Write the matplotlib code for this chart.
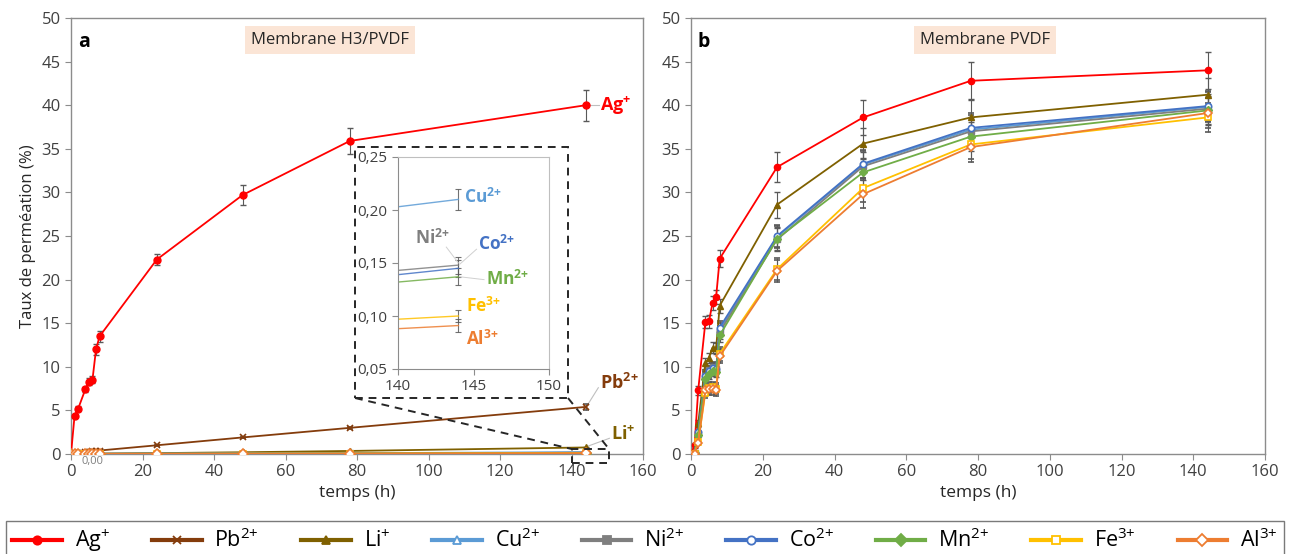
import numpy as np
import matplotlib
matplotlib.use("Agg")
import matplotlib.pyplot as plt
from matplotlib.patches import Rectangle
from matplotlib.lines import Line2D

plt.rcParams['font.family'] = ['Open Sans', 'DejaVu Sans']
plt.rcParams['mathtext.fontset'] = 'custom'
plt.rcParams['mathtext.rm'] = 'Open Sans'
plt.rcParams['mathtext.it'] = 'Open Sans:italic'
plt.rcParams['mathtext.bf'] = 'Open Sans:bold'

# données
temps = [0, 1, 2, 4, 5, 6, 7, 8, 24, 48, 78, 144]
ions = ['Ag', 'Pb', 'Li', 'Cu', 'Ni', 'Co', 'Mn', 'Fe', 'Al']
charges = ['+', '2', '+', '2', '2', '2', '2', '3', '3']
couleurs = ['#FF0000', '#843C0C', '#7F6000', '#5B9BD5', '#7F7F7F', '#4472C4', '#70AD47', '#FFC000', '#ED7D31']
marqueurs = ['o', 'x', '^', '^', 's', 'o', 'D', 's', 'D']
creux = [False, False, False, True, False, True, False, True, True]

# membrane H3/PVDF (a)
ag_a = [0, 4.4, 5.2, 7.4, 8.3, 8.5, 12.0, 13.5, 22.3, 29.7, 35.9, 40.0]
pb_a = [0, 0.05, 0.1, 0.2, 0.25, 0.3, 0.35, 0.4, 1.0, 1.9, 3.0, 5.4]
li_a = [0, 0.01, 0.02, 0.03, 0.04, 0.05, 0.05, 0.06, 0.1, 0.2, 0.35, 0.75]
cu_a = [0, 0, 0.005, 0.01, 0.01, 0.015, 0.015, 0.02, 0.04, 0.07, 0.095, 0.21]
ni_a = [0, 0, 0.005, 0.01, 0.01, 0.01, 0.015, 0.015, 0.03, 0.05, 0.066, 0.148]
co_a = [0, 0, 0.004, 0.008, 0.01, 0.01, 0.012, 0.013, 0.025, 0.04, 0.046, 0.145]
mn_a = [0, 0, 0.004, 0.008, 0.01, 0.01, 0.012, 0.014, 0.028, 0.045, 0.055, 0.137]
fe_a = [0, 0, 0.003, 0.006, 0.008, 0.009, 0.01, 0.011, 0.022, 0.04, 0.05, 0.100]
al_a = [0, 0, 0.003, 0.005, 0.007, 0.008, 0.009, 0.01, 0.02, 0.035, 0.042, 0.091]
ag_a_err = [0, 0.2, 0.3, 0.3, 0.4, 0.4, 0.6, 0.6, 0.6, 1.1, 1.5, 1.8]
pb_a_err = [0, 0.02, 0.02, 0.03, 0.03, 0.03, 0.04, 0.04, 0.08, 0.1, 0.15, 0.3]
li_a_err = [0, 0, 0, 0, 0, 0, 0, 0, 0.02, 0.03, 0.05, 0.08]
petit_err = [0, 0, 0, 0, 0, 0, 0, 0, 0.003, 0.005, 0.006, 0.008]
cu_a_err = [0, 0, 0, 0, 0, 0, 0, 0, 0.004, 0.006, 0.008, 0.010]
fe_a_err = [0, 0, 0, 0, 0, 0, 0, 0, 0.002, 0.003, 0.004, 0.006]

# membrane PVDF (b)
ag_b = [0, 1.0, 7.3, 15.1, 15.2, 17.3, 18.0, 22.4, 32.9, 38.6, 42.8, 44.0]
li_b = [0, 0.2, 3.5, 10.4, 11.0, 12.2, 12.1, 17.0, 28.6, 35.6, 38.6, 41.2]
cu_b = [0, 0.1, 2.4, 8.8, 9.3, 9.7, 9.6, 14.2, 24.9, 33.2, 37.2, 39.8]
ni_b = [0, 0.1, 2.3, 8.9, 9.6, 10.0, 9.8, 14.0, 24.6, 33.0, 37.0, 39.6]
co_b = [0, 0.1, 2.5, 9.0, 9.5, 9.9, 9.8, 14.5, 25.0, 33.3, 37.4, 39.9]
mn_b = [0, 0.1, 2.2, 8.6, 9.2, 9.5, 9.4, 13.6, 24.7, 32.3, 36.4, 39.4]
fe_b = [0, 0.05, 1.4, 7.0, 7.6, 7.7, 7.5, 11.5, 21.2, 30.5, 35.5, 38.6]
al_b = [0, 0.05, 1.3, 7.3, 7.4, 7.4, 7.3, 11.2, 21.0, 29.8, 35.2, 39.1]
ag_b_err = [0, 0.3, 0.5, 0.7, 0.7, 0.8, 0.8, 1.0, 1.7, 2.0, 2.1, 2.1]
li_b_err = [0, 0.2, 0.4, 0.6, 0.6, 0.6, 0.6, 0.8, 1.5, 1.8, 2.0, 1.9]
autres_b_err = [0, 0.1, 0.3, 0.6, 0.6, 0.6, 0.6, 0.8, 1.3, 1.6, 1.7, 1.7]

serie_a = [ag_a, pb_a, li_a, cu_a, ni_a, co_a, mn_a, fe_a, al_a]
err_a = [ag_a_err, pb_a_err, li_a_err, cu_a_err, petit_err, petit_err, petit_err, fe_a_err, fe_a_err]
serie_b = [ag_b, None, li_b, cu_b, ni_b, co_b, mn_b, fe_b, al_b]
err_b = [ag_b_err, None, li_b_err] + [autres_b_err] * 6

ERR_COL = '#595959'
SPINE = '#8C8C8C'


def nom_ion(i, gras=False):
    # charge en exposant, le "+" isolé dans un groupe pour éviter l'espacement d'opérateur
    ch = charges[i]
    if ch == '+':
        sup = '{+}'
    else:
        sup = ch + '{+}'
    if gras:
        return r'$\mathbf{%s}^{\mathbf{%s}}$' % (ions[i], sup)
    return '%s$^{%s}$' % (ions[i], sup)


fig = plt.figure(figsize=(12.9, 5.54), dpi=100)
ax_a = fig.add_axes([71 / 1290, 1 - 454 / 554, 572 / 1290, 436 / 554])
ax_b = fig.add_axes([691 / 1290, 1 - 454 / 554, 574 / 1290, 436 / 554])


def tracer(ax, series, errs, ms):
    for i, (v, e) in enumerate(zip(series, errs)):
        if v is None:
            continue
        ax.errorbar(temps, v, yerr=e, color=couleurs[i], marker=marqueurs[i], ms=ms,
                    mfc='white' if creux[i] else couleurs[i], mec=couleurs[i],
                    mew=1.2 if marqueurs[i] == 'x' or creux[i] else 1,
                    lw=1.3, ecolor=ERR_COL, elinewidth=0.8, capsize=2, capthick=0.8,
                    zorder=3)


def habiller(ax):
    ax.set_xlim(0, 160)
    ax.set_ylim(0, 50)
    ax.set_xticks(range(0, 161, 20))
    ax.set_yticks(range(0, 51, 5))
    for s in ax.spines.values():
        s.set_color(SPINE)
        s.set_linewidth(1)
    ax.tick_params(colors=SPINE, labelcolor='#404040', labelsize=12, length=4)
    ax.set_xlabel('temps (h)', fontsize=12.5, color='#262626', labelpad=3)


tracer(ax_a, serie_a, err_a, 5)
tracer(ax_b, serie_b, err_b, 4.5)
habiller(ax_a)
habiller(ax_b)
ax_a.set_ylabel('Taux de perméation (%)', fontsize=12, color='#262626')

for ax, lettre, titre, xc in [(ax_a, 'a', 'Membrane H3/PVDF', 330), (ax_b, 'b', 'Membrane PVDF', 985)]:
    ax.text(0.012, 0.945, lettre, transform=ax.transAxes, fontsize=14, fontweight='bold',
            va='center', ha='left')
    fig.text(xc / 1290, 1 - 40 / 554, titre, fontsize=12, ha='center', va='center', color='#262626',
             bbox=dict(boxstyle='square,pad=0.35', fc='#FBE5D6', ec='none'))

# étiquettes panneau a
ax_a.plot([144.8, 147.6], [40, 40], color='#BFBFBF', lw=0.8, clip_on=False)
ax_a.text(148, 40, nom_ion(0, True), color=couleurs[0], fontsize=13, va='center', clip_on=False)
ax_a.plot([144.6, 147.5], [5.7, 7.6], color='#BFBFBF', lw=0.8, clip_on=False)
ax_a.text(148, 8.1, nom_ion(1, True), color=couleurs[1], fontsize=13, va='center', clip_on=False)
ax_a.plot([144.6, 150.6], [0.9, 1.8], color='#BFBFBF', lw=0.8, clip_on=False)
ax_a.text(151, 2.2, nom_ion(2, True), color=couleurs[2], fontsize=13, va='center', clip_on=False)
ax_a.text(5.9, -0.9, '0,00', color='#7F7F7F', fontsize=8, ha='center', va='center', clip_on=False, zorder=5)

# encart (zoom 140-150 h)
ax_in = fig.add_axes([398 / 1290, 1 - 369 / 554, 151 / 1290, 212 / 554])
for i in range(3, 9):
    ax_in.errorbar(temps, serie_a[i], yerr=err_a[i], color=couleurs[i], lw=1,
                   ecolor=ERR_COL, elinewidth=0.8, capsize=2, capthick=0.8, alpha=0.85)
ax_in.set_xlim(140, 150)
ax_in.set_ylim(0.05, 0.25)
ax_in.set_xticks([140, 145, 150])
ax_in.set_yticks([0.05, 0.10, 0.15, 0.20, 0.25])
ax_in.set_yticklabels(['0,05', '0,10', '0,15', '0,20', '0,25'])
for nom, s in ax_in.spines.items():
    s.set_color(SPINE if nom in ('left', 'bottom') else '#BFBFBF')
ax_in.tick_params(colors=SPINE, labelcolor='#404040', labelsize=11, length=4)

lbl = dict(fontsize=12.5, va='center')
ax_in.text(144.35, 0.2116, nom_ion(3, True), color=couleurs[3], **lbl)
ax_in.text(141.1, 0.173, nom_ion(4, True), color=couleurs[4], **lbl)
ax_in.text(145.3, 0.1676, nom_ion(5, True), color=couleurs[5], **lbl)
ax_in.text(145.85, 0.1343, nom_ion(6, True), color=couleurs[6], **lbl)
ax_in.text(144.5, 0.1094, nom_ion(7, True), color=couleurs[7], **lbl)
ax_in.text(144.5, 0.078, nom_ion(8, True), color=couleurs[8], **lbl)
gris = dict(color='#D0D0D0', lw=0.7)
ax_in.plot([143.2, 144.0], [0.165, 0.150], **gris)
ax_in.plot([144.1, 145.2], [0.149, 0.163], **gris)
ax_in.plot([144.1, 145.7], [0.137, 0.1343], **gris)

# cadre pointillé et liens
fig.patches.append(Rectangle((355 / 1290, 1 - 398 / 554), 213 / 1290, 251 / 554,
                             transform=fig.transFigure, fill=False, ls=(0, (4, 3)),
                             ec='#262626', lw=1.4, zorder=1))
ax_a.add_patch(Rectangle((140.1, -1.03), 10.4, 1.6, fill=False, ls=(0, (4, 3)),
                         ec='#262626', lw=1.4, clip_on=False, zorder=4))
for (fx, fy), (dx, dy) in [((355, 398), (140.1, 0.57)), ((568, 398), (150.5, 0.57))]:
    p0 = fig.transFigure.inverted().transform(ax_a.transData.transform((dx, dy)))
    fig.lines.append(Line2D([fx / 1290, p0[0]], [1 - fy / 554, p0[1]], transform=fig.transFigure,
                            ls=(0, (4, 3)), color='#262626', lw=1.4))

# légende
poignees = [Line2D([], [], color=couleurs[i], marker=marqueurs[i], lw=3, ms=6,
                   mfc='white' if creux[i] else couleurs[i], mec=couleurs[i], mew=1.3)
            for i in range(9)]
leg = fig.legend(poignees, [nom_ion(i) for i in range(9)], loc='lower center',
                 bbox_to_anchor=(0.5, -0.012), ncol=9,
                 fontsize=15.5, frameon=True, fancybox=False, edgecolor='#595959',
                 handlelength=2.3, columnspacing=1.95, handletextpad=0.6,
                 borderpad=0.3, borderaxespad=0)
leg.get_frame().set_linewidth(1)

fig.savefig('out.png', dpi=100)
